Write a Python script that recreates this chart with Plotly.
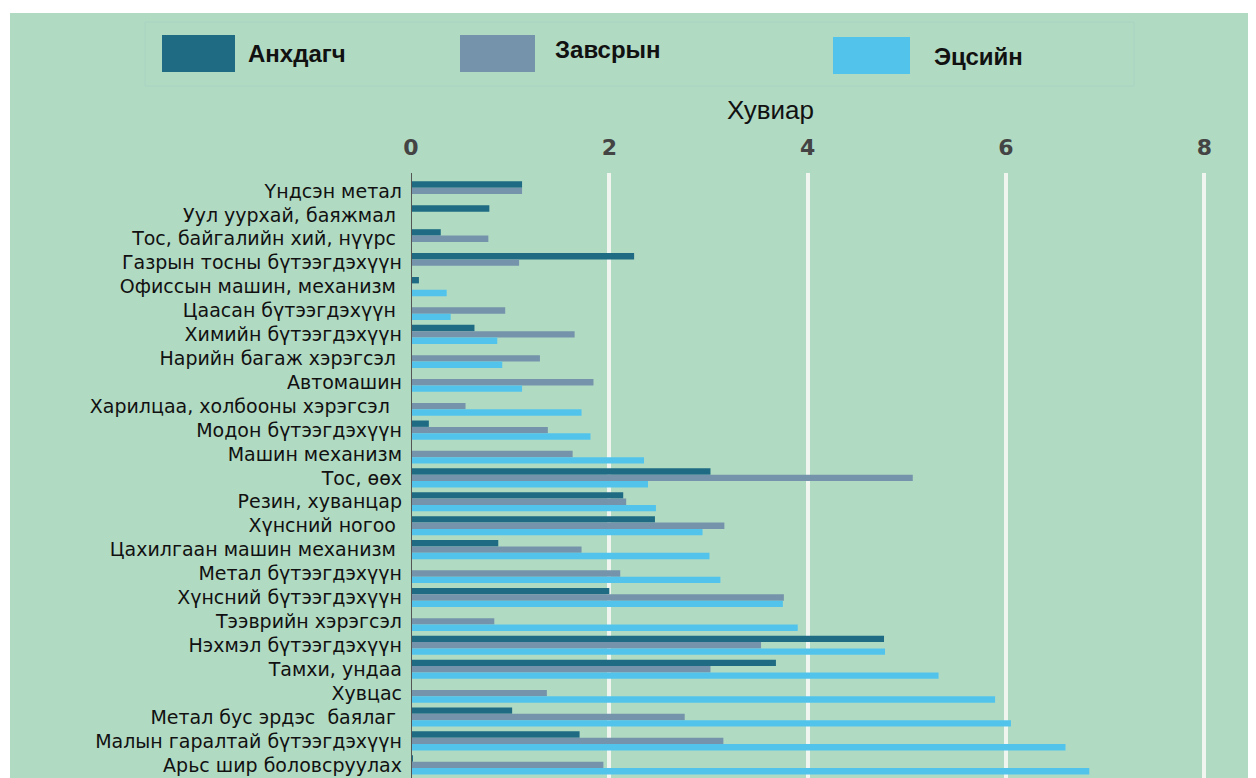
import plotly.graph_objects as go

categories = [
    "Үндсэн метал", "Уул уурхай, баяжмал ", "Тос, байгалийн хий, нүүрс ",
    "Газрын тосны бүтээгдэхүүн", "Офиссын машин, механизм ", "Цаасан бүтээгдэхүүн ",
    "Химийн бүтээгдэхүүн", "Нарийн багаж хэрэгсэл ", "Автомашин",
    "Харилцаа, холбооны хэрэгсэл  ", "Модон бүтээгдэхүүн", "Машин механизм",
    "Тос, өөх", "Резин, хуванцар", "Хүнсний ногоо ", "Цахилгаан машин механизм ",
    "Метал бүтээгдэхүүн", "Хүнсний бүтээгдэхүүн", "Тээврийн хэрэгсэл",
    "Нэхмэл бүтээгдэхүүн", "Тамхи, ундаа", "Хувцас", "Метал бус эрдэс  баялаг ",
    "Малын гаралтай бүтээгдэхүүн", "Арьс шир боловсруулах",
]
primary = [1.12, 0.79, 0.30, 2.25, 0.08, None, 0.64, None, None, None, 0.18, None,
           3.02, 2.14, 2.46, 0.88, None, 2.00, None, 4.77, 3.68, None, 1.02, 1.70, 0.02]
intermediate = [1.12, None, 0.78, 1.09, None, 0.95, 1.65, 1.30, 1.84, 0.55, 1.38, 1.63,
                5.06, 2.17, 3.16, 1.72, 2.11, 3.76, 0.84, 3.53, 3.02, 1.37, 2.76, 3.15, 1.94]
final = [None, None, None, None, 0.36, 0.40, 0.87, 0.92, 1.12, 1.72, 1.81, 2.35,
         2.39, 2.47, 2.94, 3.01, 3.12, 3.75, 3.90, 4.78, 5.32, 5.89, 6.05, 6.60, 6.84]
series_names = ["Анхдагч", "Завсрын", "Эцсийн"]
x_ticks = [0, 2, 4, 6, 8]

colors = ["#1f6b83", "#7593aa", "#52c4ec"]
BG = "#b1dac3"

# page offset of the figure (browser body margin)
OX, OY = 8, 8
PAGE_W, PAGE_H = 1256, 778
W, H = PAGE_W - OX, PAGE_H - OY
PLOT_L, PLOT_R, PLOT_T = 411, 1244, 173  # page pixels
ML, MR, MT, MB = PLOT_L - OX, PAGE_W - PLOT_R, PLOT_T - OY, 0
PW, PH = W - ML - MR, H - MT - MB


def px(x):
    return (x - PLOT_L) / PW


def py(y):
    return (PAGE_H - y) / PH


fig = go.Figure()
for name, vals, col in zip(series_names, [primary, intermediate, final], colors):
    fig.add_trace(go.Bar(
        y=categories, x=vals, name=name, orientation="h",
        marker=dict(color=col, line=dict(width=0)), showlegend=False,
    ))

shapes = [
    dict(type="rect", xref="paper", yref="paper", x0=px(10), x1=px(PAGE_W + 5), y0=py(PAGE_H + 5), y1=py(13),
         fillcolor=BG, line=dict(width=0), layer="below"),
    dict(type="rect", xref="paper", yref="paper", x0=px(145), x1=px(1134), y0=py(86), y1=py(22),
         fillcolor="rgba(0,0,0,0)", line=dict(color="#a9d2c2", width=1), layer="below"),
]
legend_pos = [(162, 235, 35, 72, 246, 53), (460, 535, 35, 72, 553, 50), (833, 910, 37, 74, 932, 56)]
annotations = []
for (x0, x1, y0, y1, tx, ty), name, col in zip(legend_pos, series_names, colors):
    shapes.append(dict(type="rect", xref="paper", yref="paper", x0=px(x0), x1=px(x1),
                       y0=py(y1), y1=py(y0), fillcolor=col, line=dict(width=0)))
    annotations.append(dict(text="<b>" + name + "</b>", xref="paper", yref="paper",
                            x=px(tx), y=py(ty), xanchor="left", yanchor="middle", showarrow=False,
                            font=dict(family="Liberation Sans", size=24, color="#111111")))
annotations.append(dict(text="Хувиар", xref="paper", yref="paper", x=px(770), y=py(110),
                        xanchor="center", yanchor="middle", showarrow=False,
                        font=dict(family="Liberation Sans", size=26, color="#111111")))

fig.update_layout(
    width=W, height=H,
    margin=dict(l=ML, r=MR, t=MT, b=MB, pad=0),
    paper_bgcolor="white", plot_bgcolor=BG,
    barmode="group", bargap=0.2, bargroupgap=0,
    shapes=shapes, annotations=annotations,
    xaxis=dict(side="top", range=[0, 8.4], tickvals=x_ticks, ticktext=[str(t) for t in x_ticks],
               showgrid=True, gridcolor="#f0f6ef", gridwidth=4, zeroline=False,
               showline=False, ticks="", ticklabelstandoff=13,
               tickfont=dict(family="DejaVu Sans", size=22, color="#444444", weight="bold")),
    yaxis=dict(range=[24.55, -0.75], showgrid=False, zeroline=False, showline=False,
               ticks="", ticklabelstandoff=8,
               tickfont=dict(family="DejaVu Sans", size=19, color="#111111")),
)
fig.add_shape(type="line", xref="x", yref="paper", x0=0, x1=0, y0=0, y1=1,
              line=dict(color="#555555", width=2))
fig.write_html("out.html")
